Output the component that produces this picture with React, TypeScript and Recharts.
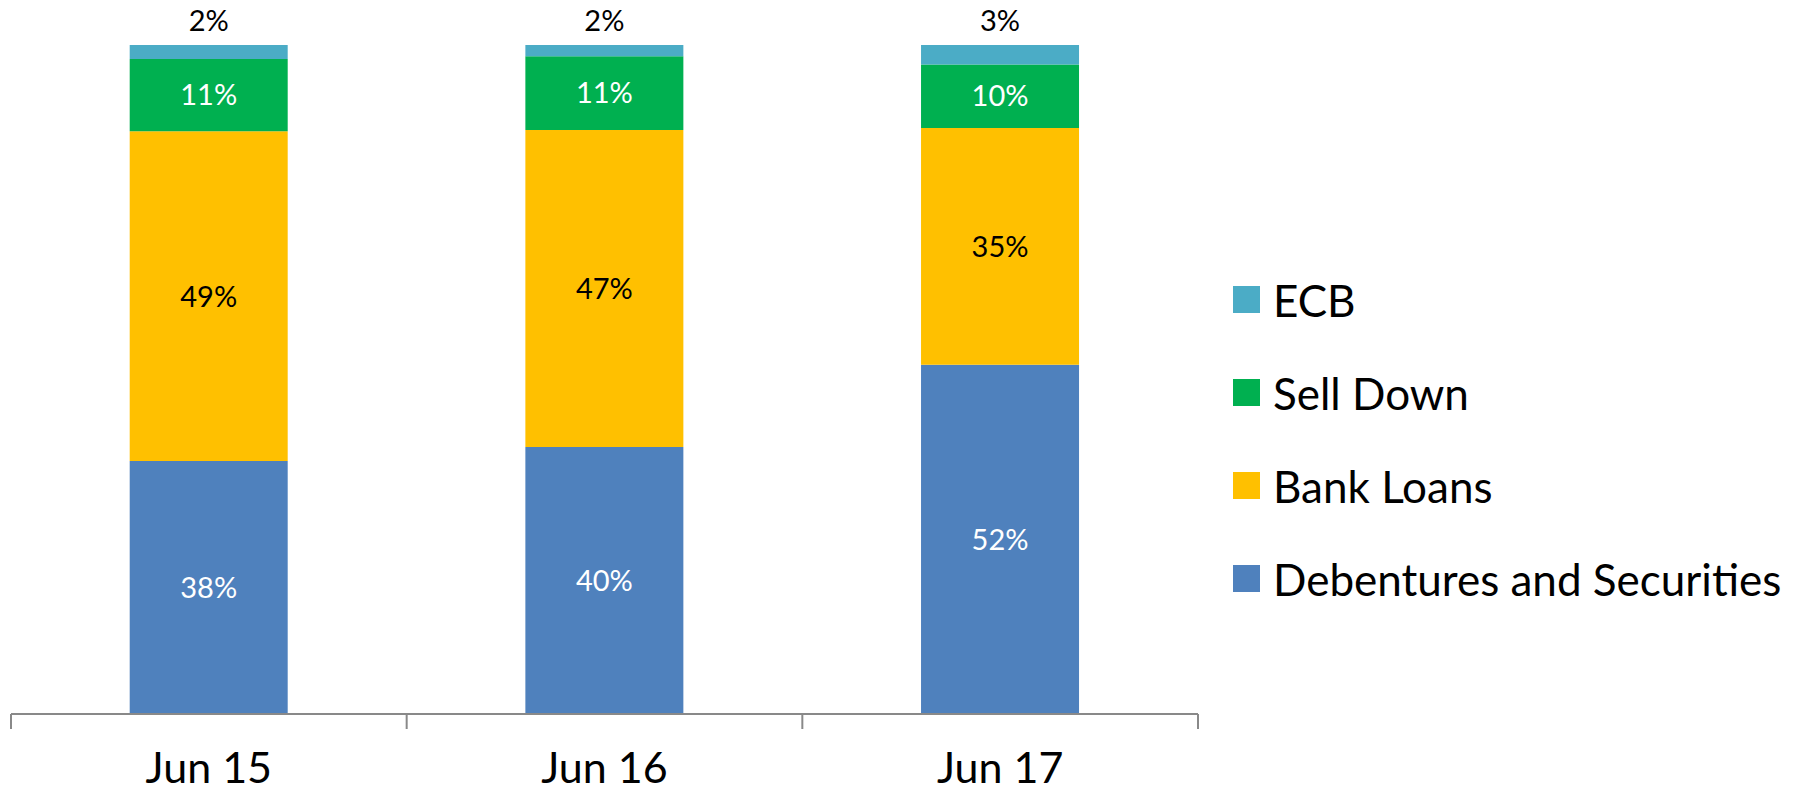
import { Bar, BarChart, LabelList, Legend, XAxis, YAxis } from 'recharts'

const categories = ['Jun 15', 'Jun 16', 'Jun 17']
// shares; labels show them rounded
const debentures = [37.8, 39.9, 52.2]
const bankLoans = [49.3, 47.4, 35.4]
const sellDown = [10.8, 11.0, 9.5]
const ecb = [2.1, 1.7, 2.9]

// legend order, top to bottom
const legendOrder = ['ECB', 'Sell Down', 'Bank Loans', 'Debentures and Securities']

const FONT = 'Lato, "Open Sans", sans-serif'

const data = categories.map((name, i) => ({
  name,
  debentures: debentures[i],
  bankLoans: bankLoans[i],
  sellDown: sellDown[i],
  ecb: ecb[i],
}))

const pct = (v: any) => `${Math.round(Number(v))}%`

// category label plus tick marks on the band boundaries
function AxisTick(props: any) {
  const { x, y, payload, index, visibleTicksCount } = props
  const half = payload.offset || 0
  const last = index === visibleTicksCount - 1
  return (
    <g>
      <line x1={x - half} x2={x - half} y1={y} y2={y + 15} stroke="#898989" strokeWidth={2} />
      {last && <line x1={x + half} x2={x + half} y1={y} y2={y + 15} stroke="#898989" strokeWidth={2} />}
      <text x={x} y={y + 69} textAnchor="middle" fontSize={43} fontFamily={FONT} fill="#000">
        {payload.value}
      </text>
    </g>
  )
}

function LegendList(props: any) {
  const items = [...(props.payload || [])].sort(
    (a: any, b: any) => legendOrder.indexOf(a.value) - legendOrder.indexOf(b.value)
  )
  return (
    <div style={{ fontFamily: FONT }}>
      {items.map((item: any) => (
        <div key={item.value} style={{ display: 'flex', alignItems: 'center', height: 93 }}>
          <span style={{ width: 27, height: 27, background: item.color, display: 'inline-block', marginRight: 13 }} />
          <span style={{ fontSize: 44, color: '#000', lineHeight: 1 }}>{item.value}</span>
        </div>
      ))}
    </div>
  )
}

export default function App() {
  return (
    <div style={{ position: 'absolute', left: 0, top: 0, width: 1802, height: 794, background: '#fff' }}>
      <BarChart
        width={1802}
        height={794}
        data={data}
        margin={{ top: 45, right: 604, left: 11, bottom: 0 }}
        barCategoryGap="30%"
      >
        <XAxis
          dataKey="name"
          height={80}
          axisLine={{ stroke: '#898989', strokeWidth: 2 }}
          tickLine={false}
          tickSize={0}
          tickMargin={0}
          tick={<AxisTick />}
          interval={0}
        />
        <YAxis hide domain={[0, 100]} />
        <Legend
          layout="vertical"
          align="center"
          verticalAlign="middle"
          wrapperStyle={{ left: 1233, top: 253, width: 565 }}
          content={<LegendList />}
        />
        <Bar dataKey="debentures" name="Debentures and Securities" stackId="a" fill="#4F81BD" isAnimationActive={false}>
          <LabelList dataKey="debentures" position="center" formatter={pct} fill="#fff" fontSize={29} fontFamily={FONT} />
        </Bar>
        <Bar dataKey="bankLoans" name="Bank Loans" stackId="a" fill="#FFC000" isAnimationActive={false}>
          <LabelList dataKey="bankLoans" position="center" formatter={pct} fill="#000" fontSize={29} fontFamily={FONT} />
        </Bar>
        <Bar dataKey="sellDown" name="Sell Down" stackId="a" fill="#00B050" isAnimationActive={false}>
          <LabelList dataKey="sellDown" position="center" formatter={pct} fill="#fff" fontSize={29} fontFamily={FONT} />
        </Bar>
        <Bar dataKey="ecb" name="ECB" stackId="a" fill="#4BACC6" isAnimationActive={false}>
          <LabelList dataKey="ecb" position="top" offset={14} formatter={pct} fill="#000" fontSize={29} fontFamily={FONT} />
        </Bar>
      </BarChart>
    </div>
  )
}
